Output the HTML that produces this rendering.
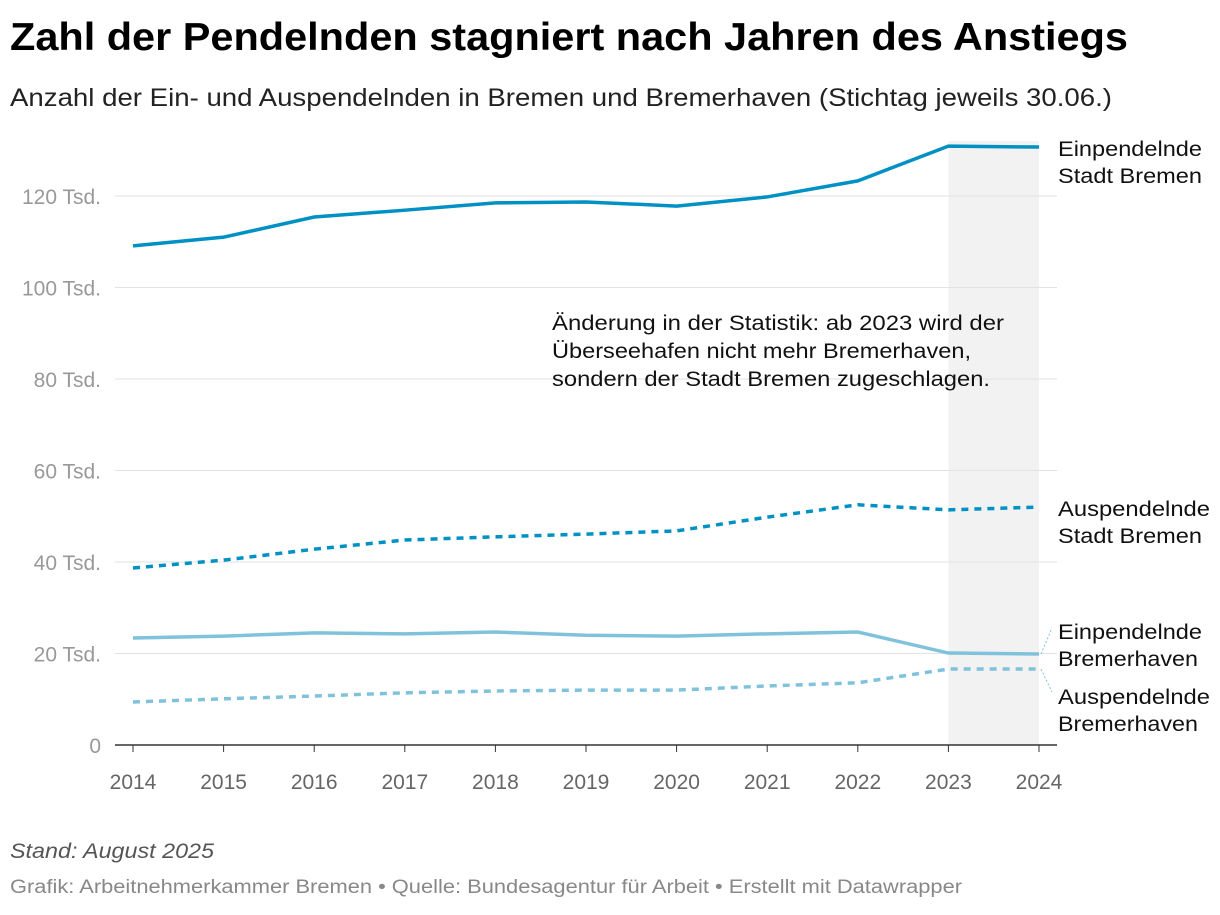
<!DOCTYPE html>
<html><head><meta charset="utf-8"><style>
body{margin:0;background:#fff;font-family:"Liberation Sans",sans-serif;}
svg text{font-family:"Liberation Sans",sans-serif;}
</style></head><body>
<svg width="1220" height="910" xmlns="http://www.w3.org/2000/svg">
<text x="10" y="50" font-size="39" font-weight="bold" fill="#000" textLength="1118" lengthAdjust="spacingAndGlyphs">Zahl der Pendelnden stagniert nach Jahren des Anstiegs</text>
<text x="10" y="106" font-size="25" fill="#222" textLength="1102" lengthAdjust="spacingAndGlyphs">Anzahl der Ein- und Auspendelnden in Bremen und Bremerhaven (Stichtag jeweils 30.06.)</text>
<g id="plot"></g>
<text font-size="21" fill="#111"><tspan x="552" y="330" textLength="452" lengthAdjust="spacingAndGlyphs">Änderung in der Statistik: ab 2023 wird der</tspan><tspan x="552" y="358" textLength="419" lengthAdjust="spacingAndGlyphs">Überseehafen nicht mehr Bremerhaven,</tspan><tspan x="552" y="386" textLength="438" lengthAdjust="spacingAndGlyphs">sondern der Stadt Bremen zugeschlagen.</tspan></text>
<text x="10" y="858" font-size="21" font-style="italic" fill="#555" textLength="204" lengthAdjust="spacingAndGlyphs">Stand: August 2025</text>
<text x="10" y="893" font-size="19" fill="#888" textLength="952" lengthAdjust="spacingAndGlyphs">Grafik: Arbeitnehmerkammer Bremen • Quelle: Bundesagentur für Arbeit • Erstellt mit Datawrapper</text>
</svg>
<script>
const years=[2014,2015,2016,2017,2018,2019,2020,2021,2022,2023,2024];
const yTicks=[0,20,40,60,80,100,120];
const yTickLabels=["0","20 Tsd.","40 Tsd.","60 Tsd.","80 Tsd.","100 Tsd.","120 Tsd."];
const einBremen=[109.1,111,115.4,116.9,118.5,118.7,117.8,119.8,123.3,130.9,130.7];
const ausBremen=[38.7,40.4,42.8,44.8,45.5,46.1,46.8,49.8,52.5,51.4,52.0];
const einBhv=[23.4,23.8,24.5,24.3,24.7,24.0,23.8,24.3,24.7,20.1,19.9];
const ausBhv=[9.4,10.1,10.7,11.4,11.8,12.0,12.0,12.9,13.6,16.6,16.6];
const NS="http://www.w3.org/2000/svg";
const g=document.getElementById('plot');
const x=yr=>133+(yr-2014)*90.6;
const y=v=>745-v*4.575;
function mk(t,a){const e=document.createElementNS(NS,t);for(const k in a)e.setAttribute(k,a[k]);g.appendChild(e);return e;}
let r=mk('rect',{x:x(2023),y:y(132),width:x(2024)-x(2023),height:y(0)-y(132),fill:'#f2f2f2'});


yTicks.forEach((t,i)=>{
 if(t>0){const l=mk('line',{x1:115,x2:1057,y1:y(t),y2:y(t),stroke:'#e2e2e2','stroke-width':1});
 
 }
 const tx=mk('text',{x:101,y:y(t)+8,'text-anchor':'end','font-size':21,fill:'#999'});tx.textContent=yTickLabels[i];
 
 
});
const ax=mk('line',{x1:115,x2:1057,y1:y(0),y2:y(0),stroke:'#333','stroke-width':1.5});


years.forEach(yr=>{
 const tk=mk('line',{x1:x(yr),x2:x(yr),y1:y(0),y2:y(0)+7,stroke:'#333'});
 
 
 const t=mk('text',{x:x(yr),y:789,'text-anchor':'middle','font-size':21,fill:'#666'});t.textContent=yr;
 
 
});
function line(vals,color,dash,name){
 const d=vals.map((v,i)=>(i?'L':'M')+x(years[i])+','+y(v)).join(' ');
 const p=mk('path',{d:d,fill:'none',stroke:color,'stroke-width':3.5,'stroke-dasharray':dash||'none'});
 
 
}
line(einBremen,'#0091c4',null,'line-einpendelnde-bremen');
line(ausBremen,'#0091c4','7 6','line-auspendelnde-bremen');
line(einBhv,'#80c2dc',null,'line-einpendelnde-bremerhaven');
line(ausBhv,'#80c2dc','7 6','line-auspendelnde-bremerhaven');
function lab(lines,widths,yy,name){
 const t=mk('text',{x:1058,y:yy,'font-size':21,fill:'#111'});
 lines.forEach((s,i)=>{const ts=document.createElementNS(NS,'tspan');ts.setAttribute('x',1058);ts.setAttribute('dy',i?27:0);ts.setAttribute('textLength',widths[i]);ts.setAttribute('lengthAdjust','spacingAndGlyphs');ts.textContent=s;t.appendChild(ts);});
 
 
}
lab(['Einpendelnde','Stadt Bremen'],[144,144],156,'label-einpendelnde-bremen');
lab(['Auspendelnde','Stadt Bremen'],[152,144],516,'label-auspendelnde-bremen');
lab(['Einpendelnde','Bremerhaven'],[144,140],639,'label-einpendelnde-bremerhaven');
lab(['Auspendelnde','Bremerhaven'],[152,140],704,'label-auspendelnde-bremerhaven');
const l1=mk('line',{x1:1041,y1:y(einBhv[10]),x2:1052,y2:628,stroke:'#80c2dc','stroke-dasharray':'2 2'});


const l2=mk('line',{x1:1041,y1:y(ausBhv[10]),x2:1052,y2:692,stroke:'#80c2dc','stroke-dasharray':'2 2'});


</script>
</body></html>
